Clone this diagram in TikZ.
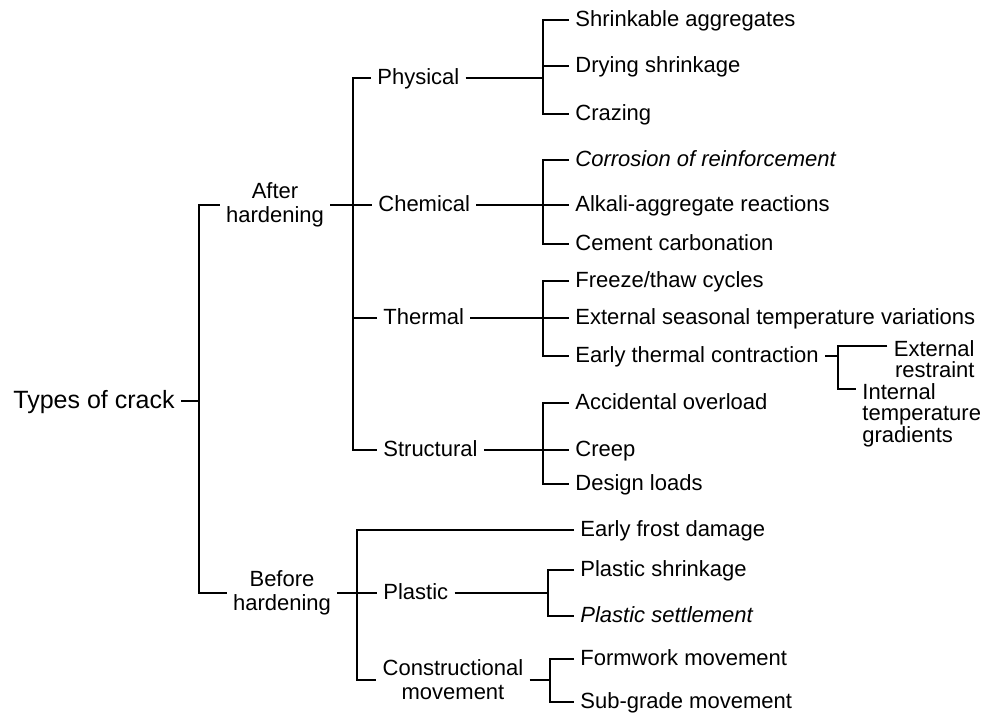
\documentclass[tikz,border=0pt]{standalone}
\usepackage{fontspec}
\setmainfont{Liberation Sans}
\begin{document}
\begin{tikzpicture}[
  x=0.5pt, y=-0.5pt,
  item/.style={font=\fontsize{11}{11.5}\selectfont, inner sep=3pt, anchor=west, text height=8.5pt, text depth=2pt},
  slant/.style={item, font=\fontsize{11}{11.5}\selectfont\itshape},
  head/.style={font=\fontsize{11}{12}\selectfont, inner sep=3pt, align=center},
  multi/.style={font=\fontsize{11}{10.75}\selectfont, inner sep=3pt},
  link/.style={line width=1.3pt}
]
\useasboundingbox (0,0) rectangle (982,718);

\node[font=\fontsize{12.5}{14}\selectfont, inner sep=3pt, anchor=east, text height=9.5pt, text depth=2.5pt] (Root) at (181,401) {Types of crack};
\node[head] (After) at (275,205) {After\\hardening};
\node[head] (Before) at (282,593) {Before\\hardening};

\node[item] (Phys) at (371,78) {Physical};
\node[item] (Chem) at (372,205) {Chemical};
\node[item] (Therm) at (377,318) {Thermal};
\node[item] (Struc) at (377,450) {Structural};
\node[item] (Plas) at (377,593) {Plastic};
\node[head] (Cons) at (453,680) {Constructional\\movement};

\node[item] (Shrink) at (569,20) {Shrinkable aggregates};
\node[item] (Dry) at (569,66) {Drying shrinkage};
\node[item] (Craz) at (569,114) {Crazing};
\node[slant] (Corr) at (569,160) {Corrosion of reinforcement};
\node[item] (Alk) at (569,205) {Alkali-aggregate reactions};
\node[item] (Carb) at (569,244) {Cement carbonation};
\node[item] (Frz) at (569,281) {Freeze/thaw cycles};
\node[item] (Seas) at (569,318) {External seasonal temperature variations};
\node[item] (Early) at (569,356) {Early thermal contraction};
\node[item] (Over) at (569,403) {Accidental overload};
\node[item] (Creep) at (569,450) {Creep};
\node[item] (Load) at (569,484) {Design loads};
\node[item] (Frost) at (574,530) {Early frost damage};
\node[item] (PShr) at (574,570) {Plastic shrinkage};
\node[slant] (PSet) at (574,616) {Plastic settlement};
\node[item] (Form) at (574,659) {Formwork movement};
\node[item] (Sub) at (574,702) {Sub-grade movement};

\node[multi, align=right, anchor=north east] (ExtR) at (981,334) {External\\restraint};
\node[multi, align=left, anchor=north west] (IntT) at (856,377) {Internal\\temperature\\gradients};

\coordinate (SpA) at (199,401);
\coordinate (SpB) at (353,205);
\coordinate (SpE) at (357,593);
\coordinate (SpPh) at (543,78);
\coordinate (SpCh) at (543,205);
\coordinate (SpTh) at (543,318);
\coordinate (SpSt) at (543,450);
\coordinate (SpPl) at (548,593);
\coordinate (SpCo) at (550,680);
\coordinate (SpEa) at (838,356);

\draw[link] (Root.east) -- (SpA);
\draw[link] (After.west) -| (SpA) |- (Before.west);

\draw[link] (After.east) -- (Chem.west);
\draw[link] (Phys.west) -| (SpB) |- (Struc.west);
\draw[link] (Therm.west) -- (Therm.west -| SpB);

\draw[link] (Phys.east) -- (SpPh);
\draw[link] (Shrink.west) -| (SpPh) |- (Craz.west);
\draw[link] (Dry.west) -- (Dry.west -| SpPh);

\draw[link] (Chem.east) -- (Alk.west);
\draw[link] (Corr.west) -| (SpCh) |- (Carb.west);

\draw[link] (Therm.east) -- (Seas.west);
\draw[link] (Frz.west) -| (SpTh) |- (Early.west);

\draw[link] (Struc.east) -- (Creep.west);
\draw[link] (Over.west) -| (SpSt) |- (Load.west);

\draw[link] (Early.east) -- (SpEa);
\draw[link] ([yshift=-6pt]ExtR.north west) -| (SpEa) |- ([yshift=-6pt]IntT.north west);

\draw[link] (Before.east) -- (Plas.west);
\draw[link] (Frost.west) -| (SpE) |- (Cons.west);

\draw[link] (Plas.east) -- (SpPl);
\draw[link] (PShr.west) -| (SpPl) |- (PSet.west);

\draw[link] (Cons.east) -- (SpCo);
\draw[link] (Form.west) -| (SpCo) |- (Sub.west);

\end{tikzpicture}
\end{document}
